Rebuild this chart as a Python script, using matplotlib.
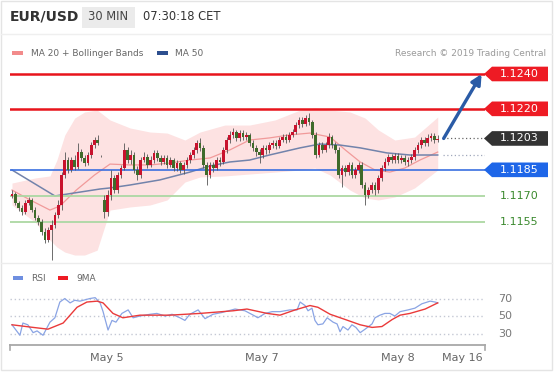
import numpy as np
import matplotlib
matplotlib.use("Agg")
import matplotlib.pyplot as plt
import matplotlib.transforms as mtransforms
from matplotlib.patches import Polygon, Rectangle

# ---------------- data ----------------
opens = [1.11700, 1.11711, 1.11660, 1.11631, 1.11608, 1.11660, 1.11677, 1.11619, 1.11573, 1.11550,
         1.11493, 1.11447, 1.11504, 1.11533, 1.11591, 1.11648, 1.11820, 1.11906, 1.11849, 1.11906,
         1.11866, 1.11952, 1.11918, 1.11889, 1.11935, 1.11992, 1.12021, 1.11929, 1.11677, 1.11608,
         1.11705, 1.11803, 1.11734, 1.11820, 1.11860, 1.11964, 1.11906, 1.11935, 1.11849, 1.11820,
         1.11906, 1.11924, 1.11878, 1.11906, 1.11947, 1.11918, 1.11895, 1.11918, 1.11878, 1.11906,
         1.11860, 1.11889, 1.11849, 1.11878, 1.11906, 1.11935, 1.11964, 1.12004, 1.11975, 1.11878,
         1.11820, 1.11878, 1.11860, 1.11906, 1.11895, 1.11964, 1.12021, 1.12050, 1.12067, 1.12033,
         1.12061, 1.12038, 1.12050, 1.12004, 1.11975, 1.11952, 1.11935, 1.11975, 1.11964, 1.11992,
         1.12004, 1.11987, 1.12021, 1.12038, 1.12021, 1.12050, 1.12067, 1.12107, 1.12136, 1.12113,
         1.12147, 1.12124, 1.12050, 1.11935, 1.11992, 1.11964, 1.11992, 1.12038, 1.11992, 1.11964,
         1.11820, 1.11860, 1.11837, 1.11878, 1.11820, 1.11849, 1.11878, 1.11763, 1.11705, 1.11734,
         1.11763, 1.11734, 1.11803, 1.11860, 1.11895, 1.11924, 1.11906, 1.11929, 1.11906, 1.11918,
         1.11895, 1.11906, 1.11924, 1.11964, 1.11992, 1.12021, 1.12004, 1.12033, 1.12044, 1.12021]
closes = [1.11711, 1.11660, 1.11631, 1.11608, 1.11660, 1.11677, 1.11619, 1.11573, 1.11550, 1.11493,
          1.11447, 1.11504, 1.11533, 1.11591, 1.11648, 1.11820, 1.11906, 1.11849, 1.11906, 1.11866,
          1.11952, 1.11918, 1.11889, 1.11935, 1.11992, 1.12021, 1.12004, 1.11927, 1.11608, 1.11705,
          1.11803, 1.11734, 1.11820, 1.11860, 1.11964, 1.11906, 1.11935, 1.11849, 1.11820, 1.11906,
          1.11924, 1.11878, 1.11906, 1.11947, 1.11918, 1.11895, 1.11918, 1.11878, 1.11906, 1.11860,
          1.11889, 1.11849, 1.11878, 1.11906, 1.11935, 1.11964, 1.12004, 1.11975, 1.11878, 1.11820,
          1.11878, 1.11860, 1.11906, 1.11895, 1.11964, 1.12021, 1.12050, 1.12067, 1.12033, 1.12061,
          1.12038, 1.12050, 1.12004, 1.11975, 1.11952, 1.11935, 1.11975, 1.11964, 1.11992, 1.12004,
          1.11987, 1.12021, 1.12038, 1.12021, 1.12050, 1.12067, 1.12107, 1.12136, 1.12113, 1.12147,
          1.12124, 1.12050, 1.11935, 1.11992, 1.11964, 1.11992, 1.12038, 1.11992, 1.11964, 1.11820,
          1.11860, 1.11837, 1.11878, 1.11820, 1.11849, 1.11878, 1.11763, 1.11705, 1.11734, 1.11763,
          1.11734, 1.11803, 1.11860, 1.11895, 1.11924, 1.11906, 1.11929, 1.11906, 1.11918, 1.11895,
          1.11906, 1.11924, 1.11964, 1.11992, 1.12021, 1.12004, 1.12033, 1.12044, 1.12021, 1.12027]
highs = [1.11734, 1.11723, 1.11671, 1.11648, 1.11677, 1.11694, 1.11688, 1.11637, 1.11591, 1.11568,
         1.11516, 1.11522, 1.11562, 1.11608, 1.11677, 1.11837, 1.11952, 1.11924, 1.11924, 1.11935,
         1.12004, 1.11970, 1.11935, 1.11952, 1.12010, 1.12038, 1.12050, 1.11935, 1.11705, 1.11734,
         1.11849, 1.11820, 1.11837, 1.11878, 1.12004, 1.11981, 1.11964, 1.11952, 1.11872, 1.11924,
         1.11952, 1.11941, 1.11929, 1.11964, 1.11964, 1.11935, 1.11935, 1.11935, 1.11924, 1.11918,
         1.11906, 1.11901, 1.11895, 1.11924, 1.11952, 1.11981, 1.12021, 1.12033, 1.11992, 1.11895,
         1.11895, 1.11895, 1.11924, 1.11924, 1.11981, 1.12038, 1.12073, 1.12090, 1.12079, 1.12079,
         1.12079, 1.12067, 1.12061, 1.12021, 1.11992, 1.11970, 1.11992, 1.11992, 1.12010, 1.12021,
         1.12021, 1.12038, 1.12056, 1.12056, 1.12067, 1.12084, 1.12124, 1.12153, 1.12153, 1.12165,
         1.12176, 1.12136, 1.12067, 1.12010, 1.12010, 1.12010, 1.12061, 1.12050, 1.12010, 1.11981,
         1.11878, 1.11878, 1.11895, 1.11895, 1.11866, 1.11895, 1.11895, 1.11780, 1.11751, 1.11780,
         1.11780, 1.11820, 1.11878, 1.11918, 1.11941, 1.11941, 1.11947, 1.11947, 1.11935, 1.11935,
         1.11924, 1.11941, 1.11981, 1.12010, 1.12038, 1.12038, 1.12056, 1.12061, 1.12061, 1.12050]
lows = [1.11688, 1.11648, 1.11614, 1.11591, 1.11596, 1.11648, 1.11608, 1.11562, 1.11533, 1.11476,
        1.11430, 1.11436, 1.11332, 1.11516, 1.11573, 1.11619, 1.11803, 1.11832, 1.11837, 1.11849,
        1.11855, 1.11901, 1.11872, 1.11878, 1.11918, 1.11975, 1.11992, 1.11924, 1.11573, 1.11585,
        1.11677, 1.11717, 1.11717, 1.11803, 1.11849, 1.11889, 1.11883, 1.11832, 1.11792, 1.11803,
        1.11895, 1.11860, 1.11866, 1.11889, 1.11901, 1.11878, 1.11883, 1.11860, 1.11866, 1.11843,
        1.11843, 1.11832, 1.11826, 1.11860, 1.11889, 1.11918, 1.11947, 1.11958, 1.11860, 1.11763,
        1.11803, 1.11837, 1.11849, 1.11872, 1.11883, 1.11947, 1.12004, 1.12033, 1.12015, 1.12015,
        1.12021, 1.12021, 1.11987, 1.11958, 1.11929, 1.11889, 1.11918, 1.11941, 1.11947, 1.11975,
        1.11970, 1.11975, 1.12010, 1.12004, 1.12010, 1.12038, 1.12056, 1.12090, 1.12096, 1.12102,
        1.12107, 1.12033, 1.11918, 1.11924, 1.11947, 1.11952, 1.11975, 1.11975, 1.11947, 1.11803,
        1.11751, 1.11815, 1.11820, 1.11803, 1.11803, 1.11832, 1.11746, 1.11648, 1.11688, 1.11717,
        1.11705, 1.11717, 1.11786, 1.11843, 1.11878, 1.11889, 1.11889, 1.11889, 1.11889, 1.11878,
        1.11872, 1.11889, 1.11906, 1.11947, 1.11975, 1.11987, 1.11987, 1.12015, 1.12004, 1.12010]

bb_idx = [0, 7, 11.5, 13.6, 16, 19, 22, 25.8, 29.7, 35.8, 41.8, 47, 52.4, 57, 64.5, 72, 79.7,
          87.3, 91.8, 96.4, 102.4, 107, 111, 116, 122, 129]
bb_upper = [1.11774, 1.11803, 1.11815, 1.11906, 1.12050, 1.12147, 1.12182, 1.12193, 1.12136,
            1.12090, 1.12067, 1.12061, 1.12021, 1.12067, 1.12107, 1.12107, 1.12136, 1.12193,
            1.12205, 1.12193, 1.12182, 1.12147, 1.12079, 1.12021, 1.12038, 1.12153]
bb_lower = [1.11648, 1.11550, 1.11447, 1.11407, 1.11378, 1.11361, 1.11361, 1.11389, 1.11619,
            1.11637, 1.11648, 1.11677, 1.11780, 1.11809, 1.11815, 1.11826, 1.11837, 1.11849,
            1.11860, 1.11820, 1.11734, 1.11688, 1.11677, 1.11694, 1.11746, 1.11849]

ma20_idx = [0, 5.5, 11.5, 14.5, 19.5, 25, 29.7, 35.8, 41.8, 47.9, 53.9, 60, 66, 72, 78, 84,
            90.3, 96.4, 101, 105.5, 110, 114.5, 119, 123.6, 129]
ma20 = [1.11734, 1.11677, 1.11619, 1.11642, 1.11734, 1.11820, 1.11883, 1.11878, 1.11878,
        1.11889, 1.11906, 1.11918, 1.11964, 1.12021, 1.12033, 1.12050, 1.12061, 1.12038,
        1.11964, 1.11895, 1.11849, 1.11837, 1.11860, 1.11906, 1.11952]

ma50_idx = [0, 13, 26.7, 29.7, 35.8, 44.8, 53.9, 60, 66, 72, 78, 87.3, 93.3, 99.4, 105.5,
            113.6, 120.6, 129]
ma50 = [1.11849, 1.11700, 1.11740, 1.11746, 1.11763, 1.11792, 1.11837, 1.11872, 1.11895,
        1.11906, 1.11935, 1.11976, 1.11998, 1.11992, 1.11976, 1.11947, 1.11935, 1.11935]

rsi_idx = [0, 2.4, 3.3, 4.8, 6.4, 7.6, 9.4, 11.5, 13, 14.5, 16, 17.6, 19, 20.6, 23.6, 25.2,
           26.7, 27.6, 29.1, 30.3, 31.5, 33.3, 35.2, 36.7, 38.8, 41.8, 43.9, 46.4, 48.5, 50.9,
           52.4, 53.9, 56.4, 58.5, 60.9, 63.6, 67.6, 70.6, 73.6, 74.5, 76.7, 78.8, 81.2, 84.2,
           86.4, 87.3, 88.8, 89.7, 90.9, 91.8, 92.7, 94.2, 95.5, 97.3, 98.5, 99.4, 100.3, 101.8,
           103, 104.2, 105.5, 107, 109.1, 110, 111.5, 113, 114.5, 116, 117.6, 120, 122.1, 124.2,
           126.7, 128.2, 129]
rsi = [40, 28, 42, 40, 31, 33, 28, 43, 48, 66, 70, 65, 68, 67, 70, 71,
       65, 55, 34, 45, 43, 53, 57, 48, 50, 52, 53, 50, 52, 48,
       45, 52, 57, 47, 52, 54, 58, 56, 50, 48, 53, 55, 55, 57,
       57, 66, 62, 56, 59, 45, 40, 41, 48, 43, 41, 32, 38, 34,
       40, 37, 31, 35, 41, 48, 51, 53, 53, 50, 55, 57, 59, 64,
       67, 66, 65]
rsi_ma_idx = [0, 6.4, 10.9, 15.5, 19.7, 22.7, 25.8, 27.6, 30.6, 33.6, 38.8, 47.9, 57, 67, 71.2,
              77.3, 81.2, 85.8, 90.3, 92.7, 96.4, 101, 105.5, 109.1, 112.1, 115.2, 117.6, 120.6,
              125.2, 129]
rsi_ma = [40, 37, 35, 42, 60, 66, 67, 65, 53, 48, 51, 51, 53, 56, 58,
          53, 51, 57, 62, 60, 52, 46, 40, 37, 38, 46, 51, 53, 58, 65]

levels = [1.1240, 1.1220, 1.1203, 1.1185, 1.1170, 1.1155]
level_kinds = ["res", "res", "last", "sup_box", "sup", "sup"]
rsi_levels = [70, 50, 30]
date_labels = ["May 5", "May 7", "May 8", "May 16"]
date_idx = [28.8, 75.8, 117, 136.4]
target_price = 1.1240
last_price = 1.1203

# ---------------- figure ----------------
W, H = 554, 376
fig = plt.figure(figsize=(W / 100, H / 100), dpi=100)
fig.patch.set_facecolor("white")
plt.rcParams["font.family"] = ["DejaVu Sans"]


def fx(px):
    return px / W


def fy(py):
    return 1 - py / H


# frame & separators
fig.add_artist(Rectangle((fx(1), fy(370)), fx(551), fy(1) - fy(370), transform=fig.transFigure,
                         fill=False, ec="#e4e4e4", lw=1))
fig.add_artist(plt.Line2D([fx(1), fx(552)], [fy(34), fy(34)], transform=fig.transFigure,
                          color="#efefef", lw=1))
fig.add_artist(plt.Line2D([fx(1), fx(552)], [fy(263), fy(263)], transform=fig.transFigure,
                          color="#ececec", lw=1))

# header
fig.text(fx(10), fy(17), "EUR/USD", fontsize=10, fontweight="bold", color="#333333",
         va="center", ha="left")
fig.add_artist(Rectangle((fx(82), fy(28)), fx(53), fy(7) - fy(28), transform=fig.transFigure,
                         fc="#ebebeb", ec="none"))
fig.text(fx(108.5), fy(17), "30 MIN", fontsize=8.3, color="#444444", va="center", ha="center")
fig.text(fx(143), fy(17), "07:30:18 CET", fontsize=8.3, color="#333333", va="center", ha="left")

# legend main
fig.add_artist(Rectangle((fx(12), fy(55)), fx(11), fy(51) - fy(55), transform=fig.transFigure,
                         fc="#f28b8b", ec="none"))
fig.text(fx(31), fy(53.5), "MA 20 + Bollinger Bands", fontsize=6.5, color="#666666",
         va="center", ha="left")
fig.add_artist(Rectangle((fx(157), fy(55)), fx(11), fy(51) - fy(55), transform=fig.transFigure,
                         fc="#2d4f8f", ec="none"))
fig.text(fx(175), fy(53.5), "MA 50", fontsize=6.5, color="#666666", va="center", ha="left")
fig.text(fx(546), fy(54), "Research © 2019 Trading Central", fontsize=6.5, color="#9a9a9a",
         va="center", ha="right")

# ---------------- main price axes ----------------
ax = fig.add_axes([fx(10), fy(262), fx(485) - fx(10), fy(40) - fy(262)])
ax.set_xlim(-0.606, 143.33)
ax.set_ylim(1.11321, 1.12595)
ax.axis("off")

ax.fill_between(bb_idx, bb_lower, bb_upper, color="#fde2e2", lw=0, zorder=0)
ax.plot(ma20_idx, ma20, color="#f19a9a", lw=0.9, zorder=1)
ax.plot(ma50_idx, ma50, color="#7283ab", lw=1.1, zorder=1)

o = np.array(opens)
c = np.array(closes)
h = np.array(highs)
l = np.array(lows)
idx = np.arange(len(c))
up = c >= o
ax.vlines(idx, l, h, color="#555555", lw=0.6, zorder=2)
ax.bar(idx[up], np.maximum(c[up] - o[up], 0.00002), bottom=o[up], width=0.8,
       color="#c8122d", lw=0, zorder=3)
ax.bar(idx[~up], o[~up] - c[~up], bottom=c[~up], width=0.8, color="#3f6b2b", lw=0, zorder=3)

line_style = {"res": ("#e8141c", 1.8), "sup_box": ("#3a6fe0", 1.2), "sup": ("#acd8a3", 1.3)}
for lv, kind in zip(levels, level_kinds):
    if kind in line_style:
        col, lw = line_style[kind]
        ax.axhline(lv, color=col, lw=lw, zorder=1.5)

# dotted extensions on the right
ax.hlines(last_price, 130.5, 143.3, colors="#666666", linestyles=(0, (1, 2)), lw=0.9)
ax.hlines(ma50[-1], 130.5, 143.3, colors="#a0a8bc", linestyles=(0, (1, 2)), lw=0.9)

# target arrow
ax.annotate("", xy=(142.3, target_price), xytext=(130.8, last_price),
            arrowprops=dict(arrowstyle="-|>", color="#2a5ba6", lw=2.4, mutation_scale=15,
                            shrinkA=0, shrinkB=0),
            annotation_clip=False, zorder=5)

# price labels
tr = mtransforms.blended_transform_factory(ax.transAxes, ax.transData)
hh = 0.00042
box_col = {"res": "#ee1b24", "last": "#333333", "sup_box": "#1e66e8"}
x_tip = (484 - 10) / 475
x_body = (492 - 10) / 475
x_end = (548 - 10) / 475
x_txt = (519 - 10) / 475
for lv, kind in zip(levels, level_kinds):
    txt = f"{lv:.4f}"
    if kind in box_col:
        poly = Polygon([(x_tip, lv), (x_body, lv + hh), (x_end, lv + hh), (x_end, lv - hh),
                        (x_body, lv - hh)], closed=True, transform=tr, fc=box_col[kind],
                       ec="none", clip_on=False, zorder=6)
        ax.add_patch(poly)
        ax.text(x_txt, lv, txt, transform=tr, color="white", fontsize=8, ha="center",
                va="center", clip_on=False, zorder=7)
    else:
        ax.text(x_txt, lv, txt, transform=tr, color="#3b8a2e", fontsize=8, ha="center",
                va="center", clip_on=False, zorder=7)

# ---------------- RSI axes ----------------
ax2 = fig.add_axes([fx(10), fy(345), fx(485) - fx(10), fy(270) - fy(345)])
ax2.set_xlim(-0.606, 143.33)
ax2.set_ylim(16.9, 102.6)
for s in ["top", "right", "left"]:
    ax2.spines[s].set_visible(False)
ax2.spines["bottom"].set_color("#a8a8a8")
ax2.spines["bottom"].set_linewidth(1.3)
ax2.set_yticks([])
ax2.set_xticks(date_idx)
ax2.set_xticklabels(date_labels, fontsize=8, color="#666666")
ax2.tick_params(axis="x", length=0, pad=6)
ax2.set_facecolor("none")
for e in (0.0, 1.0):
    ax2.plot([e, e], [0, -0.06], transform=ax2.transAxes, color="#a8a8a8", lw=1.2,
             clip_on=False)

for lv in rsi_levels:
    ax2.axhline(lv, color="#c4c8d4", lw=1, linestyle=(0, (1, 2)))
    ax2.text((505 - 10) / 475, lv, str(lv), transform=mtransforms.blended_transform_factory(
        ax2.transAxes, ax2.transData), fontsize=8, color="#777777", ha="center", va="center",
        clip_on=False)

ax2.plot(rsi_idx, rsi, color="#8aa4e4", lw=0.9)
ax2.plot(rsi_ma_idx, rsi_ma, color="#ea3a3a", lw=1.0)

# RSI legend
fig.add_artist(Rectangle((fx(13), fy(280)), fx(10), fy(276) - fy(280), transform=fig.transFigure,
                         fc="#6f8fe0", ec="none"))
fig.text(fx(31), fy(278.5), "RSI", fontsize=6.5, color="#666666", va="center", ha="left")
fig.add_artist(Rectangle((fx(58), fy(280)), fx(10), fy(276) - fy(280), transform=fig.transFigure,
                         fc="#ee1b24", ec="none"))
fig.text(fx(76), fy(278.5), "9MA", fontsize=6.5, color="#666666", va="center", ha="left")

fig.savefig("out.png", dpi=100, facecolor="white")
